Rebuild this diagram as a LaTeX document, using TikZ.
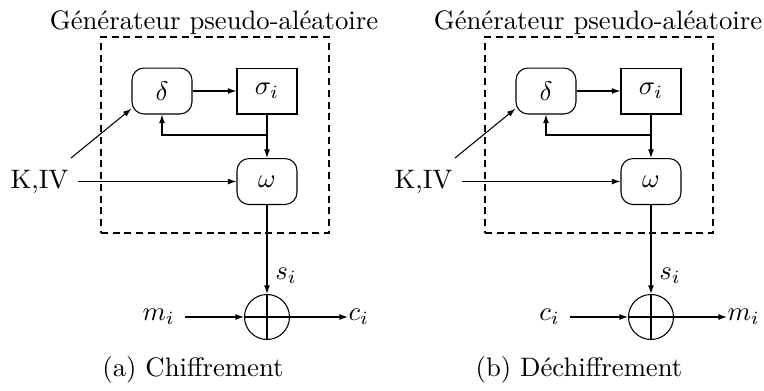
\documentclass[tikz,border=0pt]{standalone}
\usetikzlibrary{arrows.meta}
\tikzset{
  px/.style={x=0.3745pt,y=-0.3745pt},
  rbox/.style={draw,rounded corners=4.5pt,minimum width=22.47pt,minimum height=17.2pt,inner sep=0pt},
  sbox/.style={draw,minimum width=22.47pt,minimum height=17.2pt,inner sep=0pt},
  genbox/.style={draw,dash pattern=on 2.6pt off 1.8pt,minimum width=85.4pt,minimum height=73.4pt,inner sep=0pt},
  xorc/.style={draw,circle,minimum size=16.85pt,inner sep=0pt},
  lbl/.style={inner sep=0pt},
  inl/.style={inner ysep=0pt,inner xsep=3.6pt},
  arr/.style={-{Latex[length=3.2pt,width=2.2pt]}},
}
\begin{document}
\begin{tikzpicture}[px]
\useasboundingbox (0,0) rectangle (764,390);
% ---------- panel (a) ----------
\node[genbox] (ga) at (215,135) {};
\node[anchor=base] (ta) at (214,29) {Générateur pseudo-aléatoire};
\node[rbox] (da) at (162,91) {$\delta$};
\node[sbox] (sa) at (267,91) {$\sigma_i$};
\node[rbox] (wa) at (267,181.5) {$\omega$};
\node (ka) at (39.5,181.5) {K,IV};
\coordinate (kda) at (71,158);
\coordinate (ja) at (267,135);
\node[xorc] (xa) at (267,317) {};
\node (sia) at (286,276) {$s_i$};
\node[inl,anchor=east] (ma) at (185,317) {$m_i$};
\node[lbl,anchor=west] (ca) at (348,317) {$c_i$};
\node[anchor=base] (capa) at (193,376) {(a)\ Chiffrement};
\draw[arr] (da.east) -- (sa.west);
\draw (sa.south) -- (ja);
\draw[arr] (ja) -| (da.south);
\draw[arr] (ja) -- (wa.north);
\draw[arr] (ka.east) -- (wa.west);
\draw[arr] (kda) -- (da.-150);
\draw[arr] (wa.south) -- (xa.north);
\draw (xa.north) -- (xa.south) (xa.west) -- (xa.east);
\draw[arr] (ma.east) -- (xa.west);
\draw[arr] (xa.east) -- (ca.west);
% ---------- panel (b) ----------
\begin{scope}[xshift=384*0.3745pt]
\node[genbox] (gb) at (215,135) {};
\node[anchor=base] (tb) at (214,29) {Générateur pseudo-aléatoire};
\node[rbox] (db) at (162,91) {$\delta$};
\node[sbox] (sb) at (267,91) {$\sigma_i$};
\node[rbox] (wb) at (267,181.5) {$\omega$};
\node (kb) at (39.5,181.5) {K,IV};
\coordinate (kdb) at (71,158);
\coordinate (jb) at (267,135);
\node[xorc] (xb) at (267,317) {};
\node (sib) at (286,276) {$s_i$};
\node[inl,anchor=east] (cb) at (186,317) {$c_i$};
\node[lbl,anchor=west] (mb) at (343,317) {$m_i$};
\node[anchor=base] (capb) at (195,376) {(b)\ Déchiffrement};
\draw[arr] (db.east) -- (sb.west);
\draw (sb.south) -- (jb);
\draw[arr] (jb) -| (db.south);
\draw[arr] (jb) -- (wb.north);
\draw[arr] (kb.east) -- (wb.west);
\draw[arr] (kdb) -- (db.-150);
\draw[arr] (wb.south) -- (xb.north);
\draw (xb.north) -- (xb.south) (xb.west) -- (xb.east);
\draw[arr] (cb.east) -- (xb.west);
\draw[arr] (xb.east) -- (mb.west);
\end{scope}
\end{tikzpicture}
\end{document}
